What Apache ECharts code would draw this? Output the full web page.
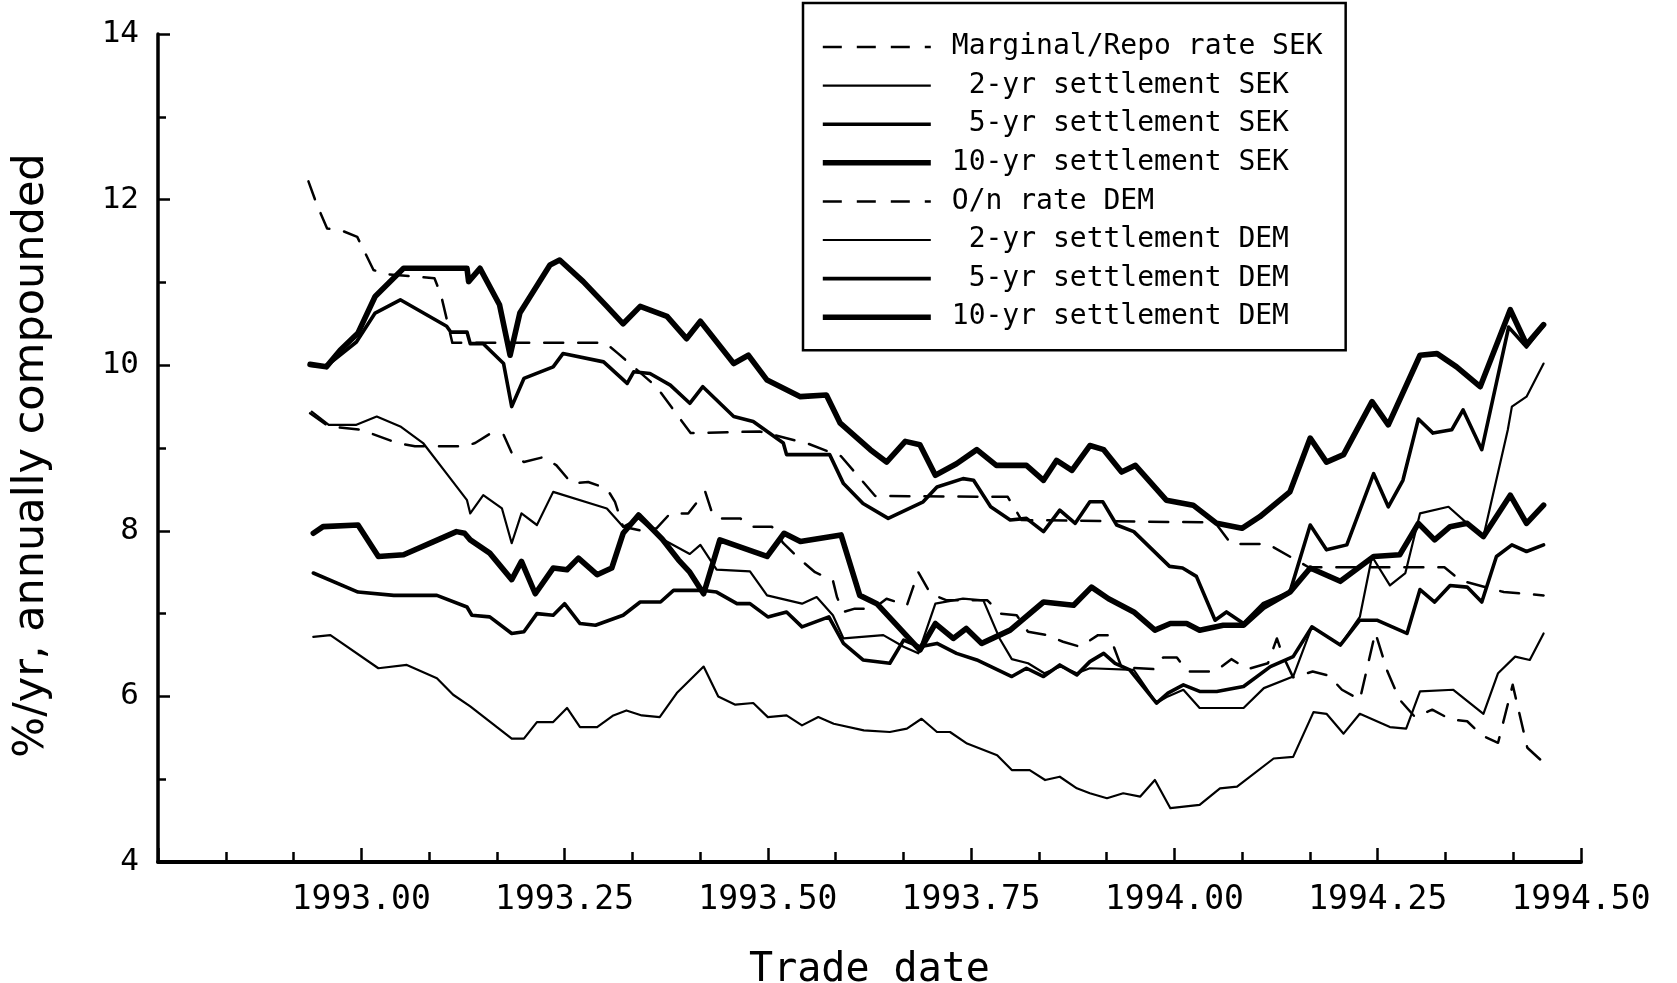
<!DOCTYPE html>
<html>
<head>
<meta charset="utf-8">
<script src="https://cdn.jsdelivr.net/npm/echarts@6/dist/echarts.min.js"></script>
<style>
  html, body { margin: 0; padding: 0; background: #fff; }
  #chart { width: 1677px; height: 983px; }
</style>
</head>
<body>
<div id="chart"></div>
<script>
// [trade date (decimal year), % per year]
const sekRepo = [[1992.935,12.22],[1992.945,11.95],[1992.958,11.65],[1992.975,11.63],[1992.995,11.55],[1993.015,11.15],[1993.03,11.1],[1993.09,11.05],[1993.098,10.85],[1993.112,10.27],[1993.30,10.27],[1993.316,10.14],[1993.363,9.74],[1993.405,9.18],[1993.49,9.2],[1993.55,9.05],[1993.59,8.9],[1993.632,8.42],[1993.795,8.41],[1993.812,8.13],[1994.05,8.1],[1994.07,7.84],[1994.115,7.84],[1994.165,7.56],[1994.332,7.56],[1994.352,7.4],[1994.405,7.26],[1994.454,7.22]];

const sek2 = [[1992.939,9.44],[1992.96,9.28],[1992.994,9.28],[1993.019,9.38],[1993.048,9.26],[1993.076,9.06],[1993.105,8.69],[1993.13,8.37],[1993.134,8.21],[1993.15,8.43],[1993.173,8.27],[1993.185,7.85],[1993.197,8.21],[1993.216,8.07],[1993.236,8.47],[1993.302,8.27],[1993.322,8.05],[1993.341,8.15],[1993.37,7.9],[1993.404,7.72],[1993.417,7.83],[1993.437,7.53],[1993.478,7.51],[1993.499,7.22],[1993.542,7.12],[1993.56,7.2],[1993.58,6.98],[1993.593,6.7],[1993.642,6.74],[1993.667,6.6],[1993.685,6.52],[1993.706,7.12],[1993.74,7.18],[1993.765,7.16],[1993.785,6.7],[1993.8,6.45],[1993.82,6.4],[1993.84,6.28],[1993.86,6.36],[1993.88,6.28],[1993.896,6.34],[1993.95,6.32],[1993.978,5.92],[1993.992,6.0],[1994.011,6.08],[1994.031,5.86],[1994.085,5.86],[1994.11,6.1],[1994.146,6.24],[1994.169,6.84],[1994.204,6.62],[1994.228,6.96],[1994.243,7.69],[1994.265,7.34],[1994.284,7.49],[1994.302,8.21],[1994.337,8.29],[1994.36,8.09],[1994.38,7.93],[1994.41,9.22],[1994.415,9.5],[1994.433,9.62],[1994.454,10.02]];

const sek5 = [[1992.937,10.0],[1992.957,9.99],[1992.994,10.28],[1993.017,10.63],[1993.048,10.79],[1993.105,10.47],[1993.11,10.4],[1993.13,10.4],[1993.134,10.26],[1993.15,10.26],[1993.175,10.02],[1993.185,9.5],[1993.2,9.84],[1993.236,9.98],[1993.248,10.14],[1993.298,10.04],[1993.327,9.78],[1993.335,9.92],[1993.355,9.9],[1993.38,9.76],[1993.404,9.54],[1993.42,9.74],[1993.458,9.38],[1993.482,9.32],[1993.519,9.06],[1993.523,8.92],[1993.576,8.92],[1993.593,8.57],[1993.617,8.33],[1993.648,8.15],[1993.691,8.35],[1993.708,8.53],[1993.74,8.63],[1993.753,8.61],[1993.774,8.29],[1993.798,8.13],[1993.818,8.15],[1993.839,7.99],[1993.859,8.25],[1993.878,8.09],[1993.896,8.35],[1993.912,8.35],[1993.929,8.07],[1993.95,7.99],[1993.994,7.57],[1994.01,7.55],[1994.027,7.45],[1994.05,6.92],[1994.064,7.02],[1994.085,6.88],[1994.109,7.12],[1994.142,7.26],[1994.167,8.07],[1994.187,7.77],[1994.212,7.83],[1994.245,8.69],[1994.263,8.29],[1994.281,8.61],[1994.3,9.35],[1994.318,9.18],[1994.341,9.22],[1994.355,9.46],[1994.378,8.98],[1994.411,10.46],[1994.433,10.22],[1994.454,10.48]];

const sek10 = [[1992.937,10.01],[1992.957,9.98],[1992.974,10.18],[1992.996,10.39],[1993.017,10.83],[1993.052,11.17],[1993.13,11.17],[1993.132,11.01],[1993.146,11.17],[1993.17,10.73],[1993.183,10.12],[1993.195,10.63],[1993.232,11.21],[1993.244,11.27],[1993.273,11.01],[1993.302,10.71],[1993.322,10.5],[1993.343,10.71],[1993.376,10.59],[1993.4,10.32],[1993.417,10.53],[1993.458,10.02],[1993.476,10.12],[1993.499,9.82],[1993.54,9.62],[1993.572,9.64],[1993.589,9.3],[1993.626,8.98],[1993.646,8.83],[1993.669,9.08],[1993.687,9.04],[1993.706,8.67],[1993.732,8.81],[1993.757,8.98],[1993.781,8.79],[1993.818,8.79],[1993.839,8.61],[1993.855,8.85],[1993.874,8.73],[1993.896,9.03],[1993.913,8.98],[1993.935,8.71],[1993.952,8.79],[1993.99,8.37],[1994.023,8.31],[1994.052,8.09],[1994.083,8.03],[1994.105,8.17],[1994.142,8.47],[1994.167,9.12],[1994.187,8.83],[1994.208,8.92],[1994.243,9.56],[1994.263,9.28],[1994.302,10.12],[1994.323,10.14],[1994.347,9.98],[1994.376,9.74],[1994.413,10.67],[1994.433,10.25],[1994.454,10.49]];

const demOn = [[1992.937,9.42],[1992.96,9.26],[1993.0,9.22],[1993.044,9.06],[1993.066,9.02],[1993.127,9.02],[1993.14,9.06],[1993.158,9.17],[1993.175,9.16],[1993.185,8.94],[1993.2,8.83],[1993.224,8.89],[1993.24,8.79],[1993.259,8.57],[1993.279,8.59],[1993.302,8.51],[1993.312,8.35],[1993.322,8.05],[1993.345,8.0],[1993.363,8.03],[1993.38,8.21],[1993.402,8.21],[1993.423,8.47],[1993.432,8.2],[1993.441,8.15],[1993.466,8.15],[1993.482,8.05],[1993.505,8.05],[1993.519,7.85],[1993.54,7.65],[1993.558,7.5],[1993.58,7.4],[1993.585,7.2],[1993.593,7.02],[1993.607,7.06],[1993.63,7.06],[1993.646,7.18],[1993.671,7.1],[1993.685,7.5],[1993.7,7.24],[1993.72,7.16],[1993.77,7.16],[1993.786,7.0],[1993.806,6.98],[1993.82,6.78],[1993.843,6.74],[1993.863,6.66],[1993.884,6.6],[1993.906,6.74],[1993.92,6.74],[1993.935,6.35],[1993.974,6.33],[1993.986,6.47],[1994.003,6.47],[1994.016,6.3],[1994.05,6.3],[1994.07,6.45],[1994.09,6.33],[1994.115,6.4],[1994.126,6.7],[1994.133,6.5],[1994.146,6.23],[1994.17,6.3],[1994.19,6.25],[1994.206,6.08],[1994.228,5.96],[1994.247,6.77],[1994.262,6.3],[1994.277,5.96],[1994.296,5.75],[1994.317,5.84],[1994.34,5.72],[1994.36,5.7],[1994.378,5.53],[1994.398,5.44],[1994.416,6.14],[1994.434,5.38],[1994.454,5.2]];

const dem2 = [[1992.941,6.72],[1992.962,6.74],[1993.021,6.34],[1993.056,6.38],[1993.093,6.22],[1993.113,6.02],[1993.134,5.88],[1993.185,5.49],[1993.2,5.49],[1993.216,5.69],[1993.236,5.69],[1993.253,5.86],[1993.269,5.63],[1993.29,5.63],[1993.31,5.77],[1993.326,5.83],[1993.345,5.77],[1993.367,5.75],[1993.388,6.04],[1993.421,6.36],[1993.439,6.0],[1993.46,5.9],[1993.482,5.92],[1993.5,5.75],[1993.523,5.77],[1993.542,5.65],[1993.562,5.75],[1993.581,5.67],[1993.618,5.59],[1993.65,5.57],[1993.671,5.61],[1993.689,5.73],[1993.708,5.57],[1993.724,5.57],[1993.745,5.43],[1993.782,5.29],[1993.8,5.11],[1993.822,5.11],[1993.841,4.99],[1993.859,5.03],[1993.88,4.89],[1993.896,4.83],[1993.917,4.77],[1993.937,4.83],[1993.958,4.79],[1993.976,4.99],[1993.995,4.65],[1994.031,4.69],[1994.056,4.89],[1994.077,4.91],[1994.122,5.25],[1994.146,5.27],[1994.171,5.81],[1994.187,5.79],[1994.208,5.55],[1994.228,5.79],[1994.265,5.63],[1994.285,5.61],[1994.302,6.06],[1994.343,6.08],[1994.38,5.79],[1994.398,6.28],[1994.419,6.48],[1994.437,6.44],[1994.454,6.76]];

const dem5 = [[1992.941,7.49],[1992.996,7.26],[1993.04,7.22],[1993.093,7.22],[1993.13,7.08],[1993.136,6.98],[1993.158,6.96],[1993.185,6.76],[1993.2,6.78],[1993.216,7.0],[1993.236,6.98],[1993.25,7.12],[1993.269,6.88],[1993.288,6.86],[1993.322,6.98],[1993.343,7.14],[1993.368,7.14],[1993.384,7.28],[1993.421,7.28],[1993.437,7.26],[1993.462,7.12],[1993.478,7.12],[1993.5,6.96],[1993.523,7.02],[1993.542,6.84],[1993.575,6.96],[1993.593,6.64],[1993.617,6.44],[1993.65,6.4],[1993.667,6.68],[1993.687,6.6],[1993.708,6.64],[1993.732,6.52],[1993.757,6.44],[1993.8,6.24],[1993.818,6.34],[1993.839,6.24],[1993.859,6.38],[1993.88,6.26],[1993.896,6.42],[1993.913,6.52],[1993.927,6.4],[1993.945,6.32],[1993.978,5.92],[1993.992,6.04],[1994.011,6.14],[1994.031,6.06],[1994.052,6.06],[1994.085,6.12],[1994.118,6.36],[1994.146,6.48],[1994.169,6.84],[1994.204,6.62],[1994.228,6.92],[1994.249,6.92],[1994.286,6.76],[1994.302,7.29],[1994.32,7.14],[1994.339,7.34],[1994.36,7.32],[1994.378,7.14],[1994.396,7.69],[1994.415,7.83],[1994.433,7.75],[1994.454,7.83]];

const dem10 = [[1992.941,7.97],[1992.953,8.05],[1992.996,8.07],[1993.021,7.69],[1993.052,7.71],[1993.089,7.87],[1993.117,7.99],[1993.127,7.97],[1993.134,7.89],[1993.158,7.73],[1993.185,7.41],[1993.197,7.63],[1993.214,7.24],[1993.236,7.55],[1993.253,7.53],[1993.267,7.67],[1993.29,7.47],[1993.308,7.55],[1993.322,7.97],[1993.341,8.19],[1993.37,7.9],[1993.39,7.65],[1993.404,7.5],[1993.421,7.24],[1993.441,7.89],[1993.499,7.69],[1993.52,7.97],[1993.54,7.87],[1993.59,7.95],[1993.613,7.22],[1993.634,7.12],[1993.687,6.56],[1993.706,6.88],[1993.728,6.7],[1993.744,6.82],[1993.763,6.64],[1993.798,6.8],[1993.839,7.14],[1993.876,7.1],[1993.898,7.32],[1993.919,7.18],[1993.95,7.02],[1993.976,6.8],[1993.995,6.88],[1994.015,6.88],[1994.031,6.8],[1994.06,6.86],[1994.085,6.86],[1994.11,7.08],[1994.142,7.26],[1994.167,7.55],[1994.204,7.39],[1994.245,7.69],[1994.277,7.71],[1994.3,8.09],[1994.32,7.89],[1994.339,8.05],[1994.36,8.09],[1994.38,7.93],[1994.413,8.43],[1994.433,8.09],[1994.454,8.31]];

const seriesNames = [
  'Marginal/Repo rate SEK', ' 2-yr settlement SEK', ' 5-yr settlement SEK', '10-yr settlement SEK',
  'O/n rate DEM', ' 2-yr settlement DEM', ' 5-yr settlement DEM', '10-yr settlement DEM'
];
const seriesData = [sekRepo, sek2, sek5, sek10, demOn, dem2, dem5, dem10];

const mono = "'DejaVu Sans Mono', monospace";
const dash = [19, 15];
const styles = [
  { width: 2.5, type: dash }, { width: 2.2, type: 'solid' }, { width: 3.6, type: 'solid' }, { width: 5.6, type: 'solid' },
  { width: 2.5, type: dash }, { width: 2.2, type: 'solid' }, { width: 3.6, type: 'solid' }, { width: 5.6, type: 'solid' }
];

const chart = echarts.init(document.getElementById('chart'), null, { renderer: 'canvas' });

chart.setOption({
  animation: false,
  backgroundColor: '#fff',
  grid: { left: 158, right: 96, top: 34, bottom: 121, outerBoundsMode: 'none' },
  legend: {
    orient: 'vertical',
    left: 803,
    top: 3,
    padding: [30, 23, 19, 17],
    itemWidth: 108,
    itemHeight: 14,
    itemGap: 10.6,
    borderColor: '#000',
    borderWidth: 2.5,
    selectedMode: false,
    textStyle: { color: '#000', fontFamily: mono, fontSize: 28, lineHeight: 28, padding: [0, 0, 0, 16] },
    data: seriesNames.map((n, i) => ({
      name: n,
      itemStyle: { opacity: 0 },
      lineStyle: { color: '#000', width: styles[i].width, type: styles[i].type, cap: 'butt' },
    })),
  },
  xAxis: {
    type: 'value',
    min: 1992.75,
    max: 1994.5,
    interval: 0.25,
    name: 'Trade date',
    nameLocation: 'middle',
    nameGap: 89,
    nameTextStyle: { color: '#000', fontFamily: mono, fontSize: 40 },
    axisLine: { lineStyle: { color: '#000', width: 4 } },
    axisTick: { inside: true, length: 14, lineStyle: { color: '#000', width: 2.5 } },
    minorTick: { show: true, splitNumber: 3, length: 10, lineStyle: { color: '#000', width: 2.5 } },
    axisLabel: {
      color: '#000', fontFamily: mono, fontSize: 33, margin: 22,
      formatter: v => (v < 1992.9 ? '' : v.toFixed(2)),
    },
    splitLine: { show: false },
  },
  yAxis: {
    type: 'value',
    min: 4,
    max: 14,
    interval: 2,
    name: '%/yr, annually compounded',
    nameLocation: 'middle',
    nameGap: 105,
    nameTextStyle: { color: '#000', fontFamily: "'DejaVu Sans', sans-serif", fontSize: 43, padding: [0, 15, 0, 0] },
    axisLine: { lineStyle: { color: '#000', width: 3.5 } },
    axisTick: { inside: true, length: 12, lineStyle: { color: '#000', width: 2.5 } },
    minorTick: { show: true, splitNumber: 2, length: 8, lineStyle: { color: '#000', width: 2.5 } },
    axisLabel: { color: '#000', fontFamily: mono, fontSize: 31, margin: 19 },
    splitLine: { show: false },
  },
  series: seriesData.map((d, i) => ({
    name: seriesNames[i],
    type: 'line',
    data: d,
    symbol: 'none',
    showSymbol: false,
    lineStyle: { color: '#000', width: styles[i].width, type: styles[i].type, cap: 'round', join: 'round' },
    itemStyle: { color: '#000' },
  })),
});
</script>
</body>
</html>
